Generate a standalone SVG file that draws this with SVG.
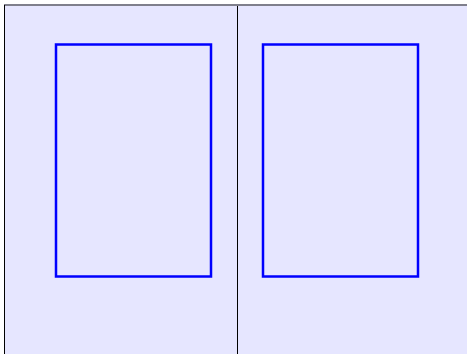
<svg xmlns="http://www.w3.org/2000/svg" width="467" height="354" viewBox="0 0 467 354">
<style>
.panel{fill:#e6e6ff;stroke:none}
.box{fill:none;stroke:#0000ff;stroke-width:2.5}
</style>
<rect x="0" y="0" width="467" height="354" fill="#ffffff"/>
<rect class="panel" x="5" y="5" width="462" height="349"/>
<line x1="4" y1="5" x2="467" y2="5" stroke="#7f7f8c" stroke-width="2"/>
<line x1="4.5" y1="5" x2="4.5" y2="354" stroke="#000000" stroke-width="1"/>
<line x1="237.5" y1="6" x2="237.5" y2="354" stroke="#000000" stroke-width="1"/>
<g id="left-box"><rect class="box" x="56" y="44.5" width="155" height="232"/></g>
<g id="right-box"><rect class="box" x="263" y="44.5" width="155" height="232"/></g>
</svg>
